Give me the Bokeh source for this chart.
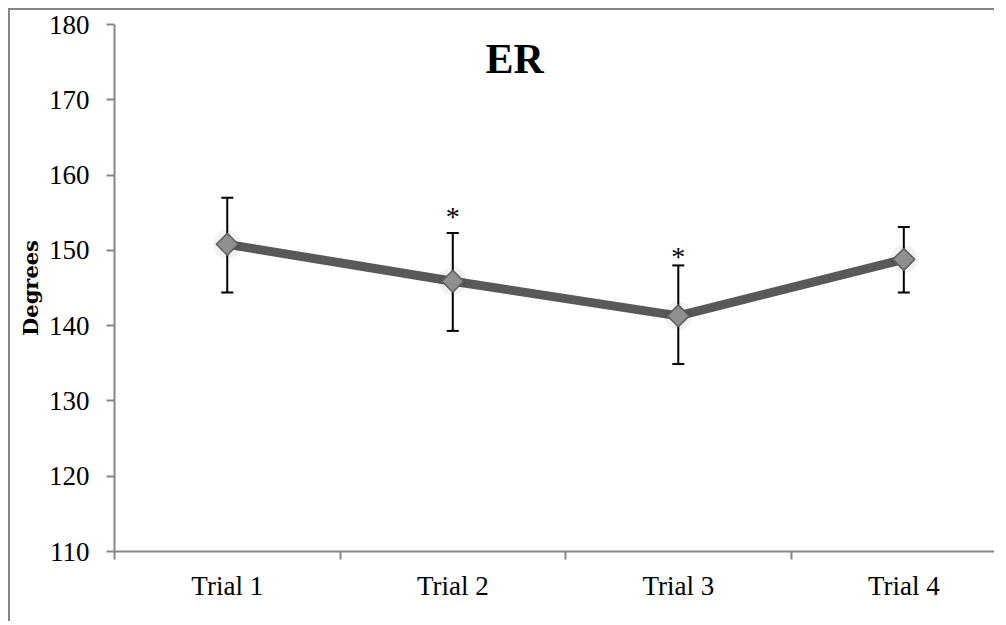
import numpy as np
from bokeh.plotting import figure
from bokeh.models import ColumnDataSource, Whisker, TeeHead, Label, FixedTicker, Range1d
from bokeh.embed import file_html
from bokeh.resources import INLINE
from bokeh.core.properties import value

# ---- data ----
trials = ["Trial 1", "Trial 2", "Trial 3", "Trial 4"]
positions = [1, 2, 3, 4]
means = [150.8, 145.9, 141.3, 148.8]
upper = [157.0, 152.3, 148.0, 153.1]
lower = [144.4, 139.3, 134.9, 144.4]
star_positions = [2, 3]
star_values = [154.9, 149.6]
y_ticks = [110, 120, 130, 140, 150, 160, 170, 180]
boundaries = [0.5, 1.5, 2.5, 3.5]
title_text = "ER"
y_label = "Degrees"

AXIS = "#868686"
SERIF = "Liberation Serif"

p = figure(width=986, height=613, output_backend="svg", toolbar_location=None,
           x_range=Range1d(0.5, 4.411), y_range=Range1d(110, 180),
           min_border_left=104, min_border_right=0, min_border_top=14,
           min_border_bottom=72)
p.styles = {"border-left": "2px solid #868686", "border-top": "2px solid #868686",
            "margin-left": "8px", "margin-top": "8px"}
p.outline_line_color = None
p.grid.visible = False
p.background_fill_color = "white"
p.border_fill_color = "white"

src = ColumnDataSource(dict(x=positions, m=means, up=upper, lo=lower))

w = Whisker(base="x", upper="up", lower="lo", source=src, dimension="height",
            line_color="black", line_width=2, level="underlay",
            upper_head=TeeHead(size=12, line_color="black", line_width=2),
            lower_head=TeeHead(size=12, line_color="black", line_width=2))
p.add_layout(w)

p.line("x", "m", source=src, line_color="#595959", line_width=9)
# soft shadow
p.scatter("x", "m", source=src, marker="circle", size=28, fill_color="black",
          fill_alpha=0.05, line_color=None)
p.scatter("x", "m", source=src, marker="square", angle=np.pi / 4, size=15.5,
          fill_color="#8f8f8f", line_color="#5e5e5e", line_width=1.5)

p.text(x=star_positions, y=star_values, text=["*"] * len(star_positions),
       text_font=value(SERIF), text_font_size="28px", text_align="center",
       text_baseline="alphabetic", y_offset=3, text_color="black")

p.add_layout(Label(x=2.274, y=175.4, text=title_text, text_font=SERIF,
                   text_font_style="bold", text_font_size="42px",
                   text_align="center", text_baseline="alphabetic",
                   text_color="black"))

# x axis
p.xaxis.ticker = FixedTicker(ticks=positions, minor_ticks=boundaries)
p.xaxis.major_label_overrides = {k: v for k, v in zip(positions, trials)}
p.xaxis.major_tick_line_color = None
p.xaxis.major_tick_out = 0
p.xaxis.major_tick_in = 0
p.xaxis.minor_tick_out = 8
p.xaxis.minor_tick_in = 0
p.xaxis.minor_tick_line_color = AXIS
p.xaxis.minor_tick_line_width = 2
p.xaxis.axis_line_color = AXIS
p.xaxis.axis_line_width = 2
p.xaxis.major_label_text_font = SERIF
p.xaxis.major_label_text_font_size = "27px"
p.xaxis.major_label_text_color = "black"
p.xaxis.major_label_standoff = 11

# y axis
p.yaxis.ticker = FixedTicker(ticks=y_ticks, minor_ticks=[])
p.yaxis.major_tick_out = 8
p.yaxis.major_tick_in = 0
p.yaxis.major_tick_line_color = AXIS
p.yaxis.major_tick_line_width = 2
p.yaxis.minor_tick_line_color = None
p.yaxis.axis_line_color = AXIS
p.yaxis.axis_line_width = 2
p.yaxis.major_label_text_font = SERIF
p.yaxis.major_label_text_font_size = "27px"
p.yaxis.major_label_text_color = "black"
p.yaxis.major_label_standoff = 17
p.yaxis.axis_label = y_label
p.yaxis.axis_label_text_font = "DejaVu Serif"
p.yaxis.axis_label_text_font_style = "bold"
p.yaxis.axis_label_text_font_size = "21px"
p.yaxis.axis_label_text_color = "black"
p.yaxis.axis_label_standoff = 3

open("out.html", "w").write(file_html(p, INLINE))
